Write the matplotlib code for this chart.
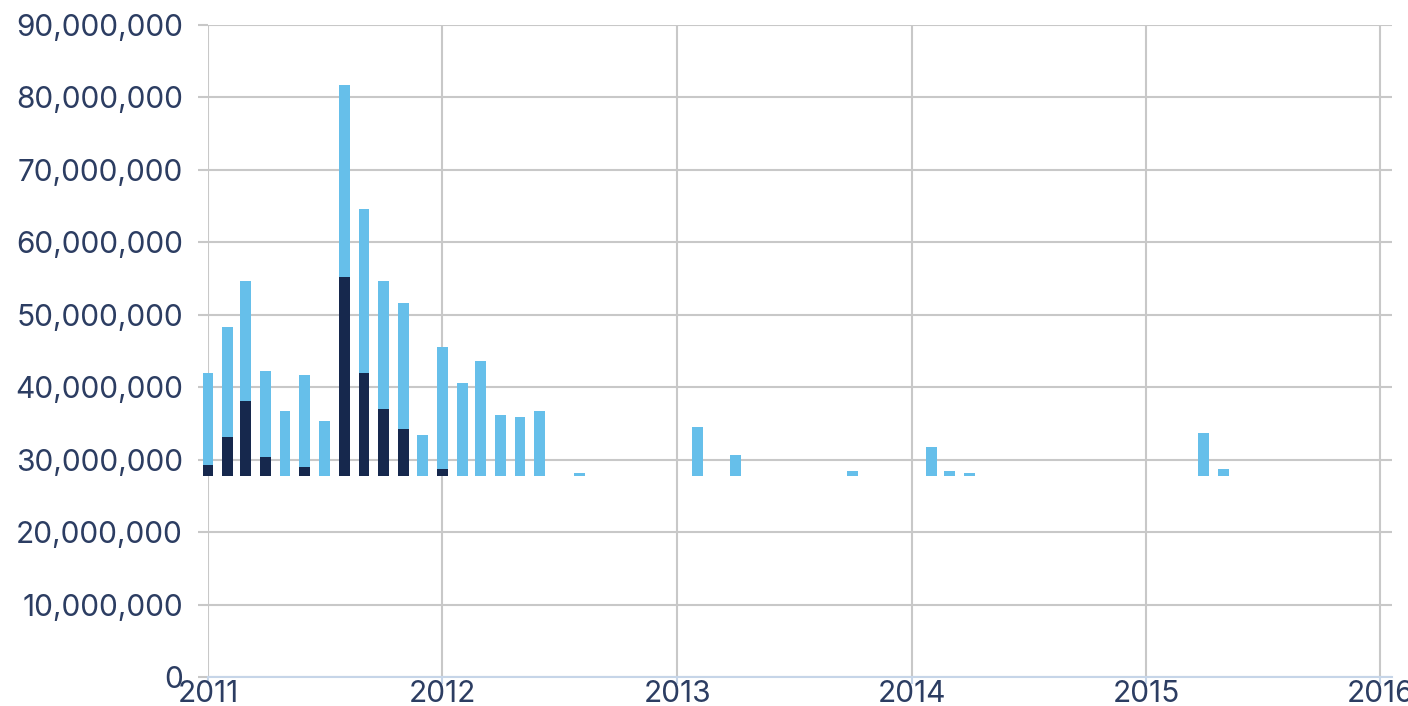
import matplotlib
matplotlib.use('Agg')
from matplotlib.pyplot import *
from matplotlib.dates import YearLocator, DateFormatter
from matplotlib.ticker import FuncFormatter
from datetime import datetime

# mois des barres
mois = ['2011-01', '2011-02', '2011-03', '2011-04', '2011-05', '2011-06',
        '2011-07', '2011-08', '2011-09', '2011-10', '2011-11', '2011-12',
        '2012-01', '2012-02', '2012-03', '2012-04', '2012-05', '2012-06',
        '2012-08', '2013-02', '2013-04', '2013-10', '2014-02', '2014-03',
        '2014-04', '2015-04', '2015-05']

# base commune des barres (en millions)
base = 27.75

# segment fonce (millions)
fonce = [1.5, 5.35, 10.35, 2.65, 0, 1.25,
         0, 27.45, 14.25, 9.25, 6.45, 0,
         0.95, 0, 0, 0, 0, 0,
         0, 0, 0, 0, 0, 0,
         0, 0, 0]

# segment clair (millions)
clair = [12.7, 15.2, 16.6, 11.8, 8.95, 12.7,
         7.55, 26.5, 22.6, 17.7, 17.4, 5.65,
         16.9, 12.85, 15.85, 8.45, 8.15, 8.95,
         0.45, 6.75, 2.85, 0.65, 4.0, 0.65,
         0.45, 5.95, 0.95]

rcParams['font.family'] = ['Inter', 'DejaVu Sans']
txt = '#2c3d62'
grille = '#c8c8c8'

x = [datetime.strptime(m, '%Y-%m') for m in mois]
b0 = [base * 1e6] * len(x)
f = [v * 1e6 for v in fonce]
c = [v * 1e6 for v in clair]
b1 = [u + v for u, v in zip(b0, f)]

fig = figure(figsize=(14.08, 7.06), dpi=100)
ax = fig.add_axes([0.1477, 0.0411, 0.8409, 0.9235])

ax.bar(x, f, bottom=b0, width=17, color='#16284d', zorder=3, clip_on=False)
ax.bar(x, c, bottom=b1, width=17, color='#66bfea', zorder=3, clip_on=False)

ax.set_ylim(0, 90e6)
ax.set_yticks(range(0, 90000001, 10000000))
ax.yaxis.set_major_formatter(FuncFormatter(lambda v, p: '{:,.0f}'.format(v)))
ax.set_xlim(datetime(2011, 1, 1), datetime(2016, 1, 19))
ax.xaxis.set_major_locator(YearLocator())
ax.xaxis.set_major_formatter(DateFormatter('%Y'))

ax.grid(True, color=grille, linewidth=1.5, zorder=0)
for s in ['top', 'right', 'left']:
    ax.spines[s].set_visible(False)
ax.spines['bottom'].set_color('#c6d5e8')
ax.spines['bottom'].set_linewidth(1.5)
ax.spines['bottom'].set_zorder(4)

ax.tick_params(axis='y', colors=grille, labelcolor=txt, labelsize=21.5,
               length=7, width=1.5, pad=11)
ax.tick_params(axis='x', colors='#c6d5e8', labelcolor=txt, labelsize=21.5,
               length=5, width=1.5, pad=-3)

fig.savefig('out.png', dpi=100)
